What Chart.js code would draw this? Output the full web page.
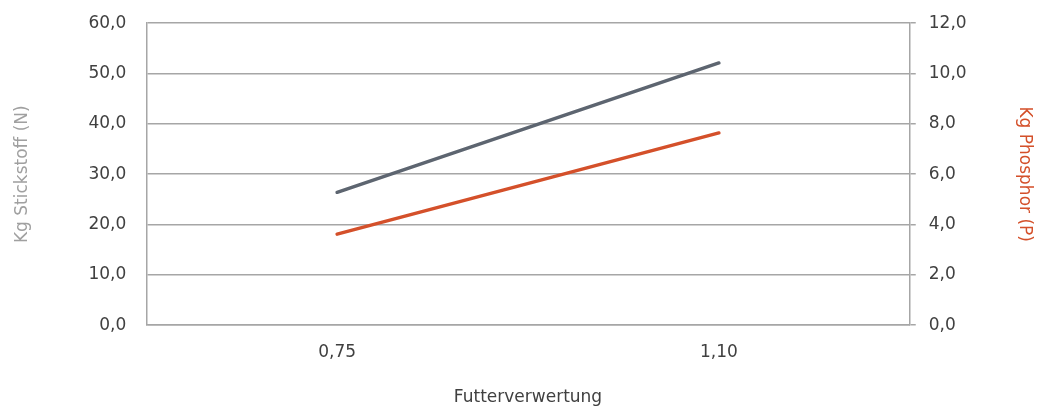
<!DOCTYPE html>
<html>
<head>
<meta charset="utf-8">
<script src="https://cdn.jsdelivr.net/npm/chart.js@4/dist/chart.umd.min.js"></script>
<style>
  html, body { margin: 0; padding: 0; background: #fff; }
  #wrap { width: 1043px; height: 408px; position: relative; }
</style>
</head>
<body>
<div id="wrap"><canvas id="chart"></canvas></div>
<script>
  var categories = ['0,75', '1,10'];
  var stickstoff = [26.4, 52.1];
  var phosphor = [3.62, 7.64];
  var leftTicks = [0, 10, 20, 30, 40, 50, 60];
  var rightTicks = [0, 2, 4, 6, 8, 10, 12];

  var gridColor = '#a6a6a6';
  var tickColor = '#404040';
  var grayLine = '#5d6570';
  var orangeLine = '#d4502a';

  function fmt(v) {
    return Number(v).toFixed(1).replace('.', ',');
  }

  Chart.defaults.font.family = "'DejaVu Sans', sans-serif";
  Chart.defaults.font.size = 17;
  Chart.defaults.color = tickColor;

  new Chart(document.getElementById('chart'), {
    type: 'line',
    data: {
      labels: categories,
      datasets: [
        {
          label: 'Kg Stickstoff (N)',
          data: stickstoff,
          yAxisID: 'y',
          borderColor: grayLine,
          borderWidth: 3.5,
          pointRadius: 0,
          borderCapStyle: 'round',
          fill: false
        },
        {
          label: 'Kg Phosphor (P)',
          data: phosphor,
          yAxisID: 'y1',
          borderColor: orangeLine,
          borderWidth: 3.5,
          pointRadius: 0,
          borderCapStyle: 'round',
          fill: false
        }
      ]
    },
    options: {
      responsive: true,
      maintainAspectRatio: false,
      devicePixelRatio: 1,
      animation: false,
      layout: { padding: { top: 0, right: 6, bottom: 0, left: 8 } },
      plugins: {
        legend: { display: false },
        tooltip: { enabled: false }
      },
      scales: {
        x: {
          offset: true,
          grid: { display: false, drawTicks: false },
          border: { color: gridColor, width: 1.5 },
          ticks: { padding: 17, color: tickColor },
          title: {
            display: true,
            text: 'Futterverwertung',
            color: tickColor,
            padding: { top: 8, bottom: 0 }
          }
        },
        y: {
          position: 'left',
          min: 0,
          max: 60,
          afterBuildTicks: function (axis) {
            axis.ticks = leftTicks.map(function (v) { return { value: v }; });
          },
          grid: { color: gridColor, lineWidth: 1.5, tickColor: 'transparent', tickLength: 8 },
          border: { color: gridColor, width: 1.5 },
          ticks: {
            padding: 12,
            color: tickColor,
            callback: function (v) { return fmt(v); }
          },
          title: {
            display: true,
            text: 'Kg Stickstoff (N)',
            color: '#a0a0a0',
            padding: { top: 4, bottom: 44 }
          }
        },
        y1: {
          position: 'right',
          min: 0,
          max: 12,
          afterBuildTicks: function (axis) {
            axis.ticks = rightTicks.map(function (v) { return { value: v }; });
          },
          grid: {
            drawOnChartArea: false,
            color: gridColor,
            lineWidth: 1.5,
            tickLength: 6
          },
          border: { color: gridColor, width: 1.5 },
          ticks: {
            padding: 13,
            color: tickColor,
            callback: function (v) { return fmt(v); }
          },
          title: {
            display: true,
            text: 'Kg Phosphor (P)',
            color: orangeLine,
            padding: { top: 2, bottom: 35 }
          }
        }
      }
    }
  });
</script>
</body>
</html>
